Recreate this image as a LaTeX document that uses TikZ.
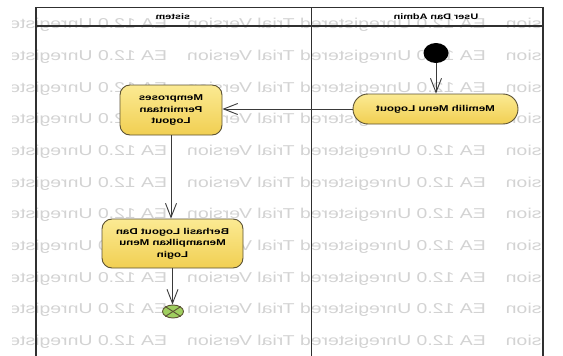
\documentclass[tikz,border=0pt]{standalone}
\usepackage{fontspec}
\setmainfont{Liberation Sans}
\usetikzlibrary{arrows.meta,shapes.geometric}

\definecolor{laneline}{HTML}{303030}
\definecolor{actlight}{HTML}{FBEA93}
\definecolor{actdark}{HTML}{F1CF52}
\definecolor{actedge}{HTML}{5C5234}
\definecolor{wmark}{HTML}{D3D3D3}
\definecolor{endfill}{HTML}{9FCF5F}
\definecolor{flowcol}{HTML}{3A3A3A}

\tikzset{
  lane/.style={draw=laneline, line width=1.3pt},
  action/.style={draw=actedge, line width=0.9pt, top color=actlight, bottom color=actdark,
    rounded corners=10pt, inner sep=0pt},
  pill/.style={action, rounded corners=15pt},
  flow/.style={draw=flowcol, line width=0.9pt, -{Straight Barb[length=14pt,width=11pt]}},
  % mirrored, widened text (used inside a mirrored scope)
  flipscope/.style={xscale=-1.36},
  labeltext/.style={transform shape, inner sep=0pt, align=center,
    font=\fontsize{8.5}{11.5}\selectfont\bfseries},
  titletext/.style={labeltext, font=\fontsize{8}{10}\selectfont\bfseries},
  stamp/.style={transform shape, inner sep=0pt, text=wmark, anchor=west,
    font=\fontsize{14.3}{16}\selectfont},
}

\begin{document}
\begin{tikzpicture}[x=1pt, y=-1pt]
  \useasboundingbox (0,0) rectangle (563,356);
  \fill[white] (0,0) rectangle (563,356);

  % evaluation stamp rows
  \begin{scope}
    \clip (12,0) rectangle (541,356);
    \foreach \k in {0,...,10} {
      \begin{scope}[shift={(571,25+31.7*\k)}, flipscope]
        \node[stamp] (stamp\k) at (0,0)
          {Version\hspace{1.03em}EA 12.0 Unregistered Trial Version\hspace{1.03em}EA 12.0 Unregistered Trial Version};
      \end{scope}
    }
  \end{scope}

  % swimlane frame
  \coordinate (fl) at (36,7.5);
  \coordinate (fr) at (543,7.5);
  \coordinate (fm) at (311.5,7.5);
  \draw[lane] (36,360) -- (fl) -- (fr) -- (543,360);
  \draw[lane] (36,26) -- (543,26);
  \draw[lane] (fm) -- (311.5,360);

  \begin{scope}[shift={(173,17)}, flipscope]
    \node[titletext] (lanesys) at (0,0) {sistem};
  \end{scope}
  \begin{scope}[shift={(436,17)}, flipscope]
    \node[titletext] (laneuser) at (0,0) {User Dan Admin};
  \end{scope}

  % activity nodes
  \node[ellipse, fill=black, minimum width=25pt, minimum height=20pt, inner sep=0pt] (start) at (436,53) {};
  \node[pill, minimum width=165pt, minimum height=30pt] (choose) at (435.5,109) {};
  \node[action, minimum width=102pt, minimum height=50pt] (process) at (171,110) {};
  \node[action, minimum width=141pt, minimum height=49pt] (done) at (172.5,243.5) {};
  \node[ellipse, draw=actedge, line width=0.9pt, fill=endfill, minimum width=21pt, minimum height=13pt, inner sep=0pt] (stop) at (173,311.5) {};
  \draw[actedge, line width=0.9pt] (stop.north west) -- (stop.south east) (stop.north east) -- (stop.south west);

  % activity names
  \begin{scope}[shift={(choose.center)}, flipscope]
    \node[labeltext] (chooseT) at (0,0) {Memilih Menu Logout};
  \end{scope}
  \begin{scope}[shift={(process.center)}, flipscope]
    \node[labeltext] (processT) at (0,0) {Memproses\\Permintaan\\Logout};
  \end{scope}
  \begin{scope}[shift={(done.center)}, flipscope]
    \node[labeltext] (doneT) at (0,0) {Berhasil Logout Dan\\Menampilkan Menu\\Login};
  \end{scope}

  % control flow
  \draw[flow] (start) -- (start |- choose.north);
  \draw[flow] (choose.west) -- (choose.west -| process.east);
  \draw[flow] (process.south) -- (process.south |- done.north);
  \draw[flow] (done.south) -- (done.south |- stop.north);
\end{tikzpicture}
\end{document}
